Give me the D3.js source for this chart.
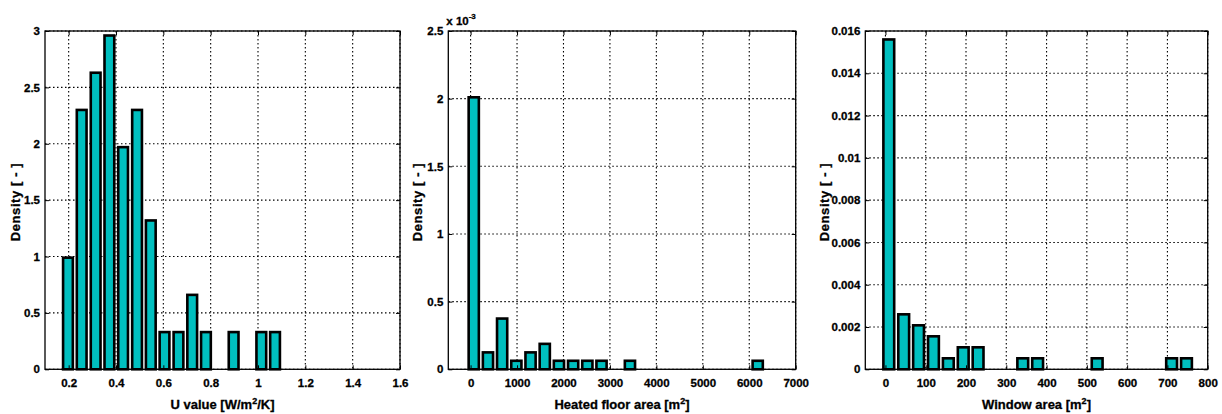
<!DOCTYPE html>
<html>
<head>
<meta charset="utf-8">
<script src="https://cdn.jsdelivr.net/npm/d3@7"></script>
<style>
    body { margin: 0; background: #fff; }
    svg { display: block; font-family: "Liberation Sans", Arial, Helvetica, sans-serif; font-weight: bold; }
    .tick text { font-size: 11.5px; fill: #000; stroke: #000; stroke-width: 0.3px; }
    .axis-label { font-size: 13px; fill: #000; stroke: #000; stroke-width: 0.3px; }
</style>
</head>
<body>
<svg id="chart" width="1222" height="414"></svg>
<script>
// --- data (bin centres + density) ---

// U value
const uCenters = [0.197, 0.255, 0.314, 0.372, 0.430, 0.489, 0.547, 0.605,
                  0.664, 0.722, 0.780, 0.839, 0.897, 0.955, 1.014, 1.072];
const uDensity = [0.99, 2.30, 2.63, 2.96, 1.97, 2.30, 1.32, 0.33,
                  0.33, 0.66, 0.33, 0, 0.33, 0, 0.33, 0.33];
const uXTicks = [0.2, 0.4, 0.6, 0.8, 1, 1.2, 1.4, 1.6];
const uYTicks = [0, 0.5, 1, 1.5, 2, 2.5, 3];

// Heated floor area (density shown in units of 1e-3)
const areaCenters = [68, 374, 679, 985, 1291, 1597, 1902, 2208, 2514, 2819, 3125,
                     3431, 3736, 4042, 4348, 4654, 4959, 5265, 5571, 5876, 6182];
const areaDensity = [2.01, 0.125, 0.375, 0.063, 0.125, 0.188, 0.063, 0.063, 0.063, 0.063, 0,
                     0.063, 0, 0, 0, 0, 0, 0, 0, 0, 0.063];
const areaXTicks = [0, 1000, 2000, 3000, 4000, 5000, 6000, 7000];
const areaYTicks = [0, 0.5, 1, 1.5, 2, 2.5];

// Window area
const winCenters = [8.3, 45.3, 82.2, 119.2, 156.1, 193.1, 230.0, 267.0, 303.9, 340.9, 377.8,
                    414.8, 451.7, 488.7, 525.6, 562.6, 599.5, 636.5, 673.4, 710.4, 747.3];
const winDensity = [0.0156, 0.0026, 0.00208, 0.00156, 0.00052, 0.00104, 0.00104, 0, 0, 0.00052, 0.00052,
                    0, 0, 0, 0.00052, 0, 0, 0, 0, 0.00052, 0.00052];
const winXTicks = [0, 100, 200, 300, 400, 500, 600, 700, 800];
const winYTicks = [0, 0.002, 0.004, 0.006, 0.008, 0.01, 0.012, 0.014, 0.016];

const svg = d3.select('#chart');
const fmt = d => String(+d.toFixed(4));

const panels = [
    { centers: uCenters, values: uDensity, xTicks: uXTicks, yTicks: uYTicks,
      xDomain: [0.1, 1.6], yDomain: [0, 3],
      box: { left: 45, right: 400, top: 31, bottom: 369.3 },
      xLabel: ['U value [W/m', '2', '/K]'], yLabelX: 20 },
    { centers: areaCenters, values: areaDensity, xTicks: areaXTicks, yTicks: areaYTicks,
      xDomain: [-480, 7000], yDomain: [0, 2.5],
      box: { left: 448.3, right: 795.7, top: 31, bottom: 369.3 },
      xLabel: ['Heated floor area [m', '2', ']'], yLabelX: 422, exponent: '-3' },
    { centers: winCenters, values: winDensity, xTicks: winXTicks, yTicks: winYTicks,
      xDomain: [-50, 800], yDomain: [0, 0.016],
      box: { left: 865.3, right: 1207.7, top: 31, bottom: 369.3 },
      xLabel: ['Window area [m', '2', ']'], yLabelX: 829 },
];

panels.forEach(drawPanel);

function drawPanel(p) {
    const b = p.box;
    const x = d3.scaleLinear().domain(p.xDomain).range([b.left, b.right]);
    const y = d3.scaleLinear().domain(p.yDomain).range([b.bottom, b.top]);
    const g = svg.append('g');

    // dotted grid (behind bars)
    g.selectAll('.vgrid')
        .data(p.xTicks)
        .join('line')
        .attr('x1', d => x(d)).attr('x2', d => x(d))
        .attr('y1', b.top).attr('y2', b.bottom)
        .attr('stroke', '#000').attr('stroke-width', 1.1)
        .attr('stroke-dasharray', '1.5,2.5');
    g.selectAll('.hgrid')
        .data(p.yTicks)
        .join('line')
        .attr('x1', b.left).attr('x2', b.right)
        .attr('y1', d => y(d)).attr('y2', d => y(d))
        .attr('stroke', '#000').attr('stroke-width', 1.1)
        .attr('stroke-dasharray', '1.5,2.5');

    // bars
    const pitch = x(p.centers[1]) - x(p.centers[0]);
    const sw = 2.6;
    const bw = pitch * 0.9 - sw;
    g.selectAll('.bar')
        .data(p.values)
        .join('rect')
        .attr('x', (d, i) => x(p.centers[i]) - bw / 2)
        .attr('y', d => y(d))
        .attr('width', bw)
        .attr('height', d => y(0) - y(d))
        .attr('fill', '#00bfbf')
        .attr('stroke', '#000')
        .attr('stroke-width', sw);

    // axes with inward ticks
    const bottom = g.append('g')
        .attr('transform', `translate(0,${b.bottom})`)
        .call(d3.axisBottom(x).tickValues(p.xTicks).tickFormat(fmt).tickSize(-4).tickPadding(10));
    const left = g.append('g')
        .attr('transform', `translate(${b.left},0)`)
        .call(d3.axisLeft(y).tickValues(p.yTicks).tickFormat(fmt).tickSize(-4).tickPadding(5));
    const top = g.append('g')
        .attr('transform', `translate(0,${b.top})`)
        .call(d3.axisTop(x).tickValues(p.xTicks).tickFormat('').tickSize(-4));
    const right = g.append('g')
        .attr('transform', `translate(${b.right},0)`)
        .call(d3.axisRight(y).tickValues(p.yTicks).tickFormat('').tickSize(-4));
    [bottom, left, top, right].forEach(a => {
        a.select('.domain').remove();
        a.selectAll('.tick line').attr('stroke', '#000');
        a.attr('font-family', null).attr('font-size', null);
    });

    // box
    g.append('rect')
        .attr('x', b.left).attr('y', b.top)
        .attr('width', b.right - b.left).attr('height', b.bottom - b.top)
        .attr('fill', 'none').attr('stroke', '#000').attr('stroke-width', 1.3);

    // x label with superscript
    const xl = g.append('text')
        .attr('class', 'axis-label')
        .attr('x', (b.left + b.right) / 2).attr('y', 409)
        .attr('text-anchor', 'middle');
    xl.append('tspan').text(p.xLabel[0]);
    xl.append('tspan').attr('dy', -5).attr('font-size', 9).text(p.xLabel[1]);
    xl.append('tspan').attr('dy', 5).text(p.xLabel[2]);

    // y label
    g.append('text')
        .attr('class', 'axis-label')
        .attr('transform', `translate(${p.yLabelX},202) rotate(-90)`)
        .attr('text-anchor', 'middle')
        .style('letter-spacing', '0.6px')
        .text('Density [ - ]');

    // exponent marker
    if (p.exponent) {
        const ex = g.append('text')
            .attr('x', b.left - 2).attr('y', 25)
            .attr('font-size', 11.5)
            .attr('stroke', '#000').attr('stroke-width', 0.3);
        ex.append('tspan').text('x 10');
        ex.append('tspan').attr('dy', -6).attr('font-size', 8).text(p.exponent);
    }
}
</script>
</body>
</html>
